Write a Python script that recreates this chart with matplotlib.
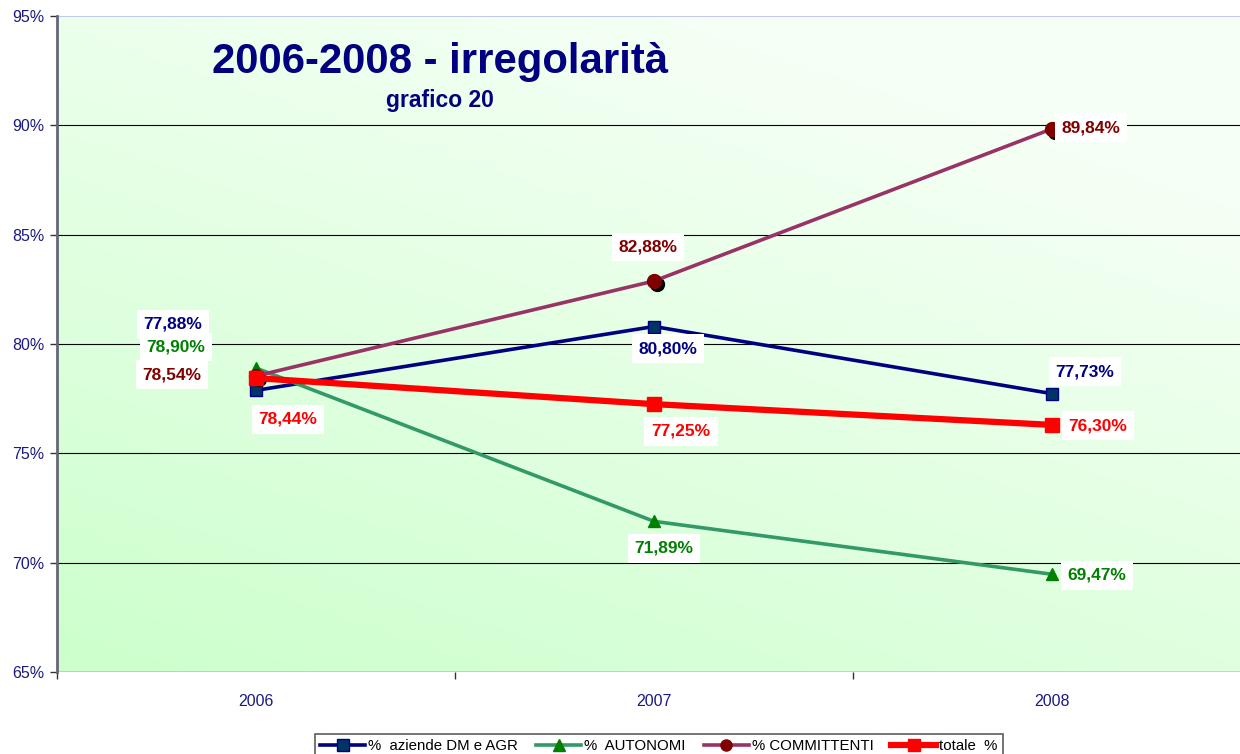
import numpy as np
import matplotlib
matplotlib.use("Agg")
import matplotlib.pyplot as plt
import matplotlib.transforms as mtransforms
from matplotlib.ticker import FixedLocator, FuncFormatter
from matplotlib.lines import Line2D

plt.rcParams['font.family'] = ['Liberation Sans', 'DejaVu Sans']

years = ["2006", "2007", "2008"]
aziende = [77.88, 80.80, 77.73]
autonomi = [78.90, 71.89, 69.47]
committenti = [78.54, 82.88, 89.84]
totale = [78.44, 77.25, 76.30]
series_names = ["%  aziende DM e AGR", "%  AUTONOMI", "% COMMITTENTI", "totale  %"]
yticks = [65, 70, 75, 80, 85, 90, 95]

W, H = 1240, 754
fig = plt.figure(figsize=(W / 100, H / 100), dpi=100)
fig.patch.set_facecolor('white')
left_px, right_px, top_px, bot_px = 57, 1251, 16, 672
ax = fig.add_axes([left_px / W, 1 - bot_px / H, (right_px - left_px) / W, (bot_px - top_px) / H])
x = np.arange(len(years))
ax.set_xlim(-0.5, 2.5)
ax.set_ylim(65, 95)

# gradient background
gx = np.linspace(0, 1, 200)
gy = np.linspace(0, 1, 200)
GX, GY = np.meshgrid(gx, gy)
t = np.clip(GX * 0.45 + GY * 0.75, 0, 1)
c0 = np.array([0xCC, 0xFF, 0xCC]) / 255.0
c1 = np.array([0xF6, 0xFF, 0xF6]) / 255.0
img = c0[None, None, :] * (1 - t[..., None]) + c1[None, None, :] * t[..., None]
ax.imshow(img, extent=[0, 1, 0, 1], transform=ax.transAxes, origin='lower',
          aspect='auto', zorder=0)

for yv in [70, 75, 80, 85, 90]:
    ax.axhline(yv, color='black', lw=0.8, zorder=1)
ax.axhline(95, color='#B8C0F0', lw=1.2, zorder=1)

for s in ['top', 'right', 'bottom']:
    ax.spines[s].set_visible(False)
ax.spines['left'].set_color('#666677')
ax.spines['left'].set_linewidth(2.0)
ax.axhline(65, color='#444444', lw=1.0, zorder=1)

ax.yaxis.set_major_locator(FixedLocator(yticks))
ax.yaxis.set_major_formatter(FuncFormatter(lambda v, p: f"{int(v)}%"))
ax.tick_params(axis='y', colors='#333333', labelcolor='#1A1A80', labelsize=11.5,
               length=5, width=1, direction='out', pad=4)
ax.set_xticks(x)
ax.set_xticklabels(years)
ax.tick_params(axis='x', which='major', length=0, labelsize=11.5, pad=16, labelcolor='#1A1A80')
ax.set_xticks([-0.5, 0.5, 1.5], minor=True)
ax.tick_params(axis='x', which='minor', length=5, width=1, color='#333333', direction='out')

# lines
ax.plot(x, aziende, color='#000080', lw=2.6, marker='s', ms=9, mfc='#003366',
        mec='#000080', mew=1, zorder=4)
ax.plot(x, autonomi, color='#339966', lw=2.6, marker='^', ms=9, mfc='#008000',
        mec='#008000', zorder=4)
shadow = mtransforms.offset_copy(ax.transData, fig=fig, x=3, y=-3, units='dots')
ax.plot(x, committenti, ls='none', marker='o', ms=10, mfc='black', mec='black',
        transform=shadow, zorder=4)
ax.plot(x, committenti, color='#993366', lw=2.6, marker='o', ms=10, mfc='#800000',
        mec='#800000', zorder=5)
ax.plot(x, totale, color='#FF0000', lw=4.5, marker='s', ms=10, mfc='#FF0000',
        mec='#FF0000', zorder=6)

# data labels (offsets in pixels)
def lab(xi, yi, text, color, dx, dy):
    ax.annotate(text, (xi, yi), xytext=(dx, dy), textcoords='offset pixels',
                ha='center', va='center', fontsize=12.5, fontweight='bold', color=color,
                bbox=dict(boxstyle='square,pad=0.4', fc='white', ec='none'), zorder=8)

def fmt(v):
    return f"{v:.2f}%".replace('.', ',')

lab(0, aziende[0], fmt(aziende[0]), '#000080', -83, 66)
lab(0, autonomi[0], fmt(autonomi[0]), '#008000', -80, 21)
lab(0, committenti[0], fmt(committenti[0]), '#800000', -84, 1)
lab(0, totale[0], fmt(totale[0]), '#FF0000', 32, -41)
lab(1, committenti[1], fmt(committenti[1]), '#800000', -6, 34)
lab(1, aziende[1], fmt(aziende[1]), '#000080', 14, -22)
lab(1, totale[1], fmt(totale[1]), '#FF0000', 27, -27)
lab(1, autonomi[1], fmt(autonomi[1]), '#008000', 10, -27)
lab(2, committenti[2], fmt(committenti[2]), '#800000', 39, 1)
lab(2, aziende[2], fmt(aziende[2]), '#000080', 33, 22)
lab(2, totale[2], fmt(totale[2]), '#FF0000', 46, -1)
lab(2, autonomi[2], fmt(autonomi[2]), '#008000', 45, -1)

# title
fig.text(440 / W, 1 - 62 / H, "2006-2008 - irregolarità", ha='center', va='center',
         fontsize=30.2, fontweight='bold', color='#000080')
fig.text(440 / W, 1 - 101 / H, "grafico 20", ha='center', va='center',
         fontsize=16.5, fontweight='bold', color='#000080')

# legend
handles = [
    Line2D([], [], color='#000080', lw=2.6, marker='s', ms=8, mfc='#003366', mec='#000080'),
    Line2D([], [], color='#339966', lw=2.6, marker='^', ms=8, mfc='#008000', mec='#008000'),
    Line2D([], [], color='#993366', lw=2.6, marker='o', ms=8, mfc='#800000', mec='#800000'),
    Line2D([], [], color='#FF0000', lw=4.5, marker='s', ms=9, mfc='#FF0000', mec='#FF0000'),
]
leg = fig.legend(handles, series_names, loc='upper center', bbox_to_anchor=(659 / W, 1 - 726 / H),
                 ncol=4, fontsize=10.8, frameon=True, fancybox=False, handlelength=3.0,
                 handletextpad=0.2, columnspacing=1.2, borderpad=0.35)
leg.get_frame().set_edgecolor('#333333')
leg.get_frame().set_linewidth(1.2)

fig.savefig('out.png', dpi=100)
